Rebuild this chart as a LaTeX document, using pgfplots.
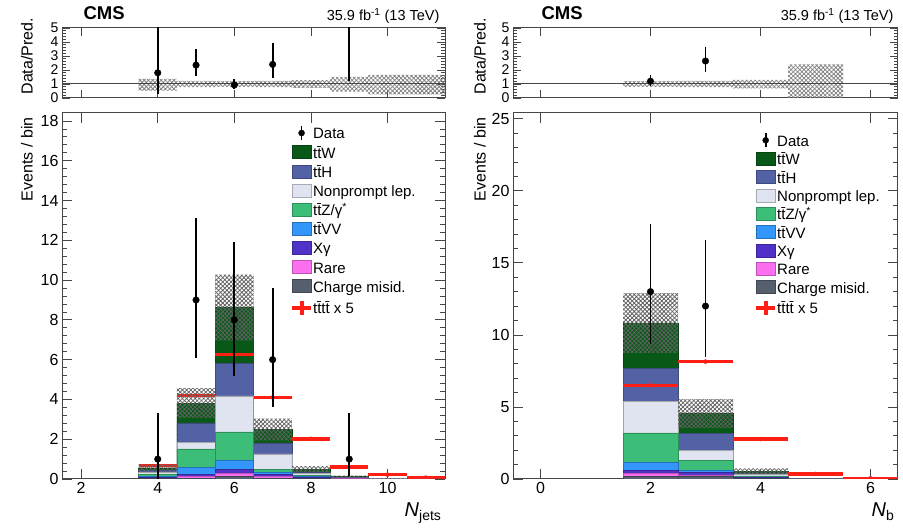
\documentclass[border=0pt]{standalone}
\usepackage{fontspec}
\setmainfont{Liberation Sans}
\usepackage{pgfplots}
\pgfplotsset{compat=1.18}
\usetikzlibrary{patterns.meta}
\definecolor{cW}{RGB}{8,88,24}
\definecolor{cH}{RGB}{82,98,164}
\definecolor{cN}{RGB}{224,228,240}
\definecolor{cZ}{RGB}{60,190,120}
\definecolor{cV}{RGB}{50,150,250}
\definecolor{cX}{RGB}{80,50,200}
\definecolor{cR}{RGB}{250,110,240}
\definecolor{cC}{RGB}{85,95,110}
\definecolor{cS}{RGB}{255,30,20}
\definecolor{axc}{RGB}{70,70,70}
\pgfplotsset{
  cmsbase/.style={
    scale only axis,
    axis line style={axc, line width=1pt},
    tick style={axc, line width=0.8pt},
    major tick length=10pt, minor tick length=5pt,
    tick align=inside, xtick pos=both, ytick pos=both,
    clip marker paths=true,
    /pgf/number format/assume math mode=true,
    tick label style={font=\fontsize{16}{18}\selectfont},
  },
  stk/.style={ybar, bar width=1, bar shift=0pt, fill=#1, draw=#1!75!black, line width=0.5pt, forget plot},
  band/.style={draw=none, pattern={Hatch[distance=3pt,angle=45,line width=0.75pt]}, pattern color=black!62, forget plot},
  datapts/.style={only marks, mark=*, mark size=3.3pt, black, forget plot,
    error bars/.cd, y dir=both, y explicit, error bar style={line width=1.8pt, black}, error mark=none},
  sigpts/.style={only marks, mark=*, mark size=2pt, cS, forget plot,
    error bars/.cd, x dir=both, x explicit, error bar style={line width=3.5pt, cS}, error mark=none},
  boxleg/.style={legend image code/.code={\draw[fill=#1, draw=#1!75!black, line width=0.5pt] (0pt,-4.5pt) rectangle (19pt,8.5pt);}},
  dataleg/.style={legend image code/.code={\draw[black,line width=1.8pt] (9.5pt,-5pt)--(9.5pt,9pt); \fill[black] (9.5pt,2pt) circle (3pt);}},
  sigleg/.style={legend image code/.code={\draw[cS,line width=4pt] (0pt,2pt)--(19pt,2pt); \draw[cS,line width=4pt] (9.5pt,-5pt)--(9.5pt,9pt);}},
  cmsleg/.style={legend cell align=left,
    legend style={draw=none, fill=none, font=\fontsize{15}{17}\selectfont, row sep=3.4pt, inner sep=0pt,
      nodes={inner sep=0pt, text height=11pt, text depth=3pt},
      /tikz/every even column/.append style={column sep=3pt}}},
}
\begin{document}
\begin{tikzpicture}
\useasboundingbox (0,0) rectangle (903pt,530pt);
% ---------------- left ratio ----------------
\begin{axis}[cmsbase, name=lr, at={(62pt,432pt)}, anchor=south west, width=383pt, height=70pt,
  xmin=1.5, xmax=11.5, ymin=0, ymax=5, xtick={2,4,6,8,10}, xticklabels={},
  ytick={0,1,2,3,4,5}, minor y tick num=4, major tick length=8pt, minor tick length=4pt,
  tick label style={font=\fontsize{14}{15}\selectfont}]
\addplot[band, pattern color=black!50] coordinates {(3.5,1.36)(4.5,1.36)(4.5,1.22)(5.5,1.22)(5.5,1.2)(6.5,1.2)(6.5,1.22)(7.5,1.22)(7.5,1.28)(8.5,1.28)(8.5,1.5)(9.5,1.5)(9.5,1.65)(10.5,1.65)(10.5,1.65)(11.5,1.65)
 (11.5,0.25)(10.5,0.25)(10.5,0.25)(9.5,0.25)(9.5,0.45)(8.5,0.45)(8.5,0.72)(7.5,0.72)(7.5,0.78)(6.5,0.78)(6.5,0.8)(5.5,0.8)(5.5,0.78)(4.5,0.78)(4.5,0.52)(3.5,0.52)};
\addplot[axc, line width=1pt, forget plot] coordinates {(1.5,1) (11.5,1)};
\addplot[datapts] coordinates {(4,1.8) += (0,4) -= (0,1.55) (5,2.35) += (0,1.15) -= (0,0.8) (6,0.93) += (0,0.45) -= (0,0.32) (7,2.4) += (0,1.5) -= (0,0.97)};
\addplot[black, line width=1.8pt, forget plot] coordinates {(9,1.2) (9,6)};
\end{axis}
\node[anchor=base west, font=\fontsize{18.5}{20}\bfseries] at ([xshift=18pt,yshift=8pt]lr.north west) {CMS};
\node[anchor=base east, font=\fontsize{14.5}{16}\selectfont] at ([xshift=-2pt,yshift=7pt]lr.north east) {35.9 fb\textsuperscript{-1} (13 TeV)};
\node[rotate=90, anchor=west, font=\fontsize{16}{18}\selectfont] at ([xshift=-35pt]lr.south west) {Data/Pred.};
% ---------------- left main ----------------
\begin{axis}[cmsbase, cmsleg, name=lm, at={(62pt,51pt)}, anchor=south west, width=383pt, height=366pt,
  xmin=1.5, xmax=11.5, ymin=0, ymax=18.4, xtick={2,4,6,8,10}, ytick={0,2,...,18}, minor y tick num=4,
  legend style={at={(rel axis cs:0.595,0.9675)}, anchor=north west}]
\addlegendimage{dataleg}\addlegendentry{Data}
\addlegendimage{boxleg=cW}\addlegendentry{t\={t}W}
\addlegendimage{boxleg=cH}\addlegendentry{t\={t}H}
\addlegendimage{boxleg=cN}\addlegendentry{Nonprompt lep.}
\addlegendimage{boxleg=cZ}\addlegendentry{t\={t}Z/γ\textsuperscript{*}}
\addlegendimage{boxleg=cV}\addlegendentry{t\={t}VV}
\addlegendimage{boxleg=cX}\addlegendentry{Xγ}
\addlegendimage{boxleg=cR}\addlegendentry{Rare}
\addlegendimage{boxleg=cC}\addlegendentry{Charge misid.}
\addlegendimage{sigleg}\addlegendentry{t\={t}t\={t} x 5}
% cumulative stacks (bins 4..11)
\addplot[stk=cW] coordinates {(4,0.56)(5,3.82)(6,8.62)(7,2.49)(8,0.50)(9,0.12)(10,0.03)(11,0.01)};
\addplot[stk=cH] coordinates {(4,0.45)(5,2.82)(6,5.82)(7,1.82)(8,0.36)(9,0.08)(10,0.02)(11,0.007)};
\addplot[stk=cN, draw=black!35] coordinates {(4,0.35)(5,1.83)(6,4.18)(7,1.26)(8,0.27)(9,0.06)(10,0.015)(11,0.005)};
\addplot[stk=cZ] coordinates {(4,0.25)(5,1.52)(6,2.37)(7,0.47)(8,0.20)(9,0.05)(10,0.01)(11,0.004)};
\addplot[stk=cV] coordinates {(4,0.12)(5,0.57)(6,0.93)(7,0.34)(8,0.13)(9,0.04)(10,0.008)(11,0.003)};
\addplot[stk=cX] coordinates {(4,0.07)(5,0.24)(6,0.50)(7,0.22)(8,0.08)(9,0.03)(10,0.006)(11,0.002)};
\addplot[stk=cR] coordinates {(4,0.05)(5,0.14)(6,0.30)(7,0.12)(8,0.05)(9,0.02)(10,0.004)(11,0.001)};
\addplot[stk=cC] coordinates {(4,0.02)(5,0.04)(6,0.12)(7,0.05)(8,0.02)(9,0.01)(10,0.002)(11,0.0005)};
\addplot[sigpts] coordinates {(4,0.67) +- (0.5,0) (5,4.2) +- (0.5,0) (6,6.25) +- (0.5,0) (7,4.1) +- (0.5,0) (8,2.02) +- (0.5,0) (9,0.6) +- (0.5,0) (10,0.22) +- (0.5,0) (11,0.07) +- (0.5,0)};
\addplot[band] coordinates {(3.5,0.74)(4.5,0.74)(4.5,4.57)(5.5,4.57)(5.5,10.27)(6.5,10.27)(6.5,3.04)(7.5,3.04)(7.5,0.65)(8.5,0.65)(8.5,0.175)(9.5,0.175)(9.5,0.05)(10.5,0.05)(10.5,0.017)(11.5,0.017)
 (11.5,0.003)(10.5,0.003)(10.5,0.01)(9.5,0.01)(9.5,0.065)(8.5,0.065)(8.5,0.35)(7.5,0.35)(7.5,1.94)(6.5,1.94)(6.5,6.97)(5.5,6.97)(5.5,3.07)(4.5,3.07)(4.5,0.38)(3.5,0.38)};
\addplot[datapts] coordinates {(4,1) += (0,2.3) -= (0,1) (5,9) += (0,4.1) -= (0,2.9) (6,8) += (0,3.9) -= (0,2.8) (7,6) += (0,3.6) -= (0,2.4) (9,1) += (0,2.3) -= (0,0.83)};
\end{axis}
\node[rotate=90, anchor=east, font=\fontsize{16}{18}\selectfont] at ([xshift=-35pt,yshift=-1pt]lm.north west) {Events / bin};
\node[anchor=base east, font=\fontsize{20}{22}\selectfont] at ([yshift=-38pt]lm.south east) {\textit{N}\textsubscript{jets}};
% ---------------- right ratio ----------------
\begin{axis}[cmsbase, name=rr, at={(513pt,432pt)}, anchor=south west, width=385pt, height=70pt,
  xmin=-0.5, xmax=6.5, ymin=0, ymax=5, xtick={0,2,4,6}, xticklabels={},
  ytick={0,1,2,3,4,5}, minor y tick num=4, major tick length=8pt, minor tick length=4pt,
  tick label style={font=\fontsize{14}{15}\selectfont}]
\addplot[band, pattern color=black!50] coordinates {(1.5,1.2)(2.5,1.2)(2.5,1.22)(3.5,1.22)(3.5,1.3)(4.5,1.3)(4.5,2.4)(5.5,2.4)
 (5.5,0)(4.5,0)(4.5,0.68)(3.5,0.68)(3.5,0.78)(2.5,0.78)(2.5,0.8)(1.5,0.8)};
\addplot[axc, line width=1pt, forget plot] coordinates {(-0.5,1) (6.5,1)};
\addplot[datapts] coordinates {(2,1.2) += (0,0.44) -= (0,0.34) (3,2.64) += (0,1.0) -= (0,0.77)};
\end{axis}
\node[anchor=base west, font=\fontsize{18.5}{20}\bfseries] at ([xshift=25pt,yshift=8pt]rr.north west) {CMS};
\node[anchor=base east, font=\fontsize{14.5}{16}\selectfont] at ([xshift=-1pt,yshift=7pt]rr.north east) {35.9 fb\textsuperscript{-1} (13 TeV)};
\node[rotate=90, anchor=west, font=\fontsize{16}{18}\selectfont] at ([xshift=-33pt]rr.south west) {Data/Pred.};
% ---------------- right main ----------------
\begin{axis}[cmsbase, cmsleg, name=rm, at={(513pt,51pt)}, anchor=south west, width=385pt, height=366pt,
  xmin=-0.5, xmax=6.5, ymin=0, ymax=25.4, xtick={0,2,4,6}, ytick={0,5,...,25}, minor y tick num=4,
  legend style={at={(rel axis cs:0.626,0.9475)}, anchor=north west, row sep=2.6pt}]
\addlegendimage{dataleg}\addlegendentry{Data}
\addlegendimage{boxleg=cW}\addlegendentry{t\={t}W}
\addlegendimage{boxleg=cH}\addlegendentry{t\={t}H}
\addlegendimage{boxleg=cN}\addlegendentry{Nonprompt lep.}
\addlegendimage{boxleg=cZ}\addlegendentry{t\={t}Z/γ\textsuperscript{*}}
\addlegendimage{boxleg=cV}\addlegendentry{t\={t}VV}
\addlegendimage{boxleg=cX}\addlegendentry{Xγ}
\addlegendimage{boxleg=cR}\addlegendentry{Rare}
\addlegendimage{boxleg=cC}\addlegendentry{Charge misid.}
\addlegendimage{sigleg}\addlegendentry{t\={t}t\={t} x 5}
\addplot[stk=cW] coordinates {(2,10.83)(3,4.55)(4,0.55)(5,0.02)};
\addplot[stk=cH] coordinates {(2,7.67)(3,3.16)(4,0.40)(5,0.015)};
\addplot[stk=cN, draw=black!35] coordinates {(2,5.40)(3,2.00)(4,0.30)(5,0.01)};
\addplot[stk=cZ] coordinates {(2,3.20)(3,1.30)(4,0.22)(5,0.008)};
\addplot[stk=cV] coordinates {(2,1.13)(3,0.62)(4,0.15)(5,0.005)};
\addplot[stk=cX] coordinates {(2,0.58)(3,0.44)(4,0.10)(5,0.003)};
\addplot[stk=cR] coordinates {(2,0.40)(3,0.28)(4,0.06)(5,0.002)};
\addplot[stk=cC] coordinates {(2,0.20)(3,0.16)(4,0.03)(5,0.001)};
\addplot[sigpts] coordinates {(2,6.5) +- (0.5,0) (3,8.15) +- (0.5,0) (4,2.77) +- (0.5,0) (5,0.35) +- (0.5,0) (6,0.05) +- (0.5,0)};
\addplot[band] coordinates {(1.5,12.9)(2.5,12.9)(2.5,5.55)(3.5,5.55)(3.5,0.74)(4.5,0.74)(4.5,0.045)(5.5,0.045)
 (5.5,0)(4.5,0)(4.5,0.36)(3.5,0.36)(3.5,3.55)(2.5,3.55)(2.5,8.76)(1.5,8.76)};
\addplot[datapts] coordinates {(2,13) += (0,4.7) -= (0,3.6) (3,12) += (0,4.6) -= (0,3.5)};
\end{axis}
\node[rotate=90, anchor=east, font=\fontsize{16}{18}\selectfont] at ([xshift=-33pt,yshift=-1pt]rm.north west) {Events / bin};
\node[anchor=base east, font=\fontsize{20}{22}\selectfont] at ([yshift=-38pt]rm.south east) {\textit{N}\textsubscript{b}};
\end{tikzpicture}
\end{document}
